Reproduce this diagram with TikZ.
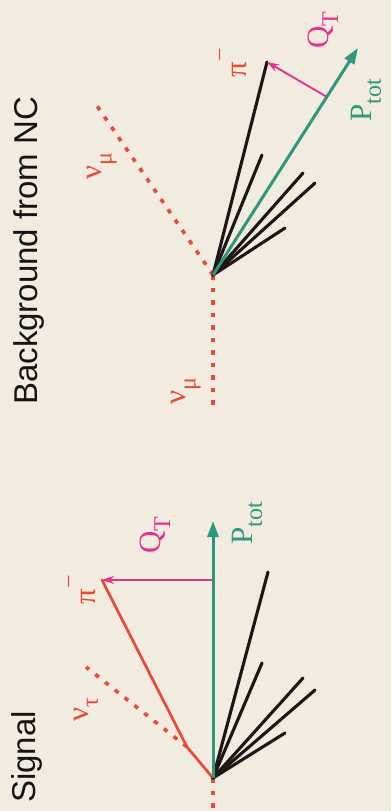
\documentclass[tikz,border=0pt]{standalone}
\usepackage{fontspec}
\setmainfont{Liberation Serif}
\newfontfamily\titlefont{Liberation Sans}
\usetikzlibrary{arrows.meta}
\definecolor{bgc}{RGB}{242,235,224}
\definecolor{nured}{RGB}{232,74,58}
\definecolor{qpink}{RGB}{228,50,140}
\definecolor{pgreen}{RGB}{45,152,122}
\definecolor{jetk}{RGB}{28,22,22}
\newcommand\lsub[1]{\raisebox{-0.32em}{\fontsize{24}{24}\selectfont #1}}
\newcommand\lsup[1]{\raisebox{0.62em}{\fontsize{24}{24}\selectfont #1}}
\begin{document}
\begin{tikzpicture}[x=1pt,y=-1pt,
  titletext/.style={rotate=90,anchor=base west,inner sep=0pt,font=\titlefont\fontsize{33}{36}\selectfont,text=black!92},
  lbl/.style={rotate=90,inner sep=0pt,font=\fontsize{31}{33}\selectfont},
  jet/.style={draw=jetk,line width=3.1pt,line cap=round},
  ptot/.style={draw=pgreen,line width=3pt,-{Triangle[length=16pt,width=11pt]}},
  qt/.style={draw=qpink,line width=1.9pt,-{Stealth[length=12pt,width=8pt]}},
  pion/.style={draw=nured,line width=2.7pt,line cap=round,line join=round},
  nuline/.style={draw=nured,line width=3.6pt,dash pattern=on 4.5pt off 8pt}
]
\useasboundingbox (0,0) rectangle (391,811);
\fill[bgc] (0,0) rectangle (391,811);

% ---------- titles ----------
\node[titletext] (tsig) at (35,803) {Signal};
\node[titletext] (tbg) at (37,405) {Background from NC};

% ---------- Signal panel ----------
\coordinate (sv) at (213,778);
\coordinate (sbot) at (213,811);
\coordinate (stau) at (187,747);
\coordinate (spi) at (102,580);
\coordinate (snu) at (86,667);
\coordinate (sptip) at (213,521);
\coordinate (sqfoot) at (212,580);
\coordinate (sj1) at (268,572);
\coordinate (sj2) at (262,663);
\coordinate (sj3) at (303,678);
\coordinate (sj4) at (315,690);
\coordinate (sj5) at (285,733);

\draw[nuline] (sv) -- (sbot);
\draw[nuline] (stau) -- (snu);
\draw[pion] (sv) -- (stau) -- (spi);
\foreach \j in {sj1,sj2,sj3,sj4,sj5} \draw[jet] (sv) -- (\j);
\draw[ptot] (sv) -- (sptip);
\draw[qt] (sqfoot) -- (spi);

\node[lbl,text=nured] (lsnu) at (86,710) {ν\lsub{τ}};
\node[lbl,text=nured] (lspi) at (82,590) {π\lsup{−}};
\node[lbl,text=qpink] (lsq) at (155,535) {Q\lsub{T}};
\node[lbl,text=pgreen] (lsp) at (247,523) {P\lsub{tot}};

% ---------- Background panel ----------
\coordinate (tv) at (213,275);
\coordinate (tbot) at (213,412);
\coordinate (tnu) at (95,103);
\coordinate (tpi) at (267,62);
\coordinate (tptip) at (358,48);
\coordinate (tqfoot) at (327,97);
\coordinate (tj2) at (262,155);
\coordinate (tj3) at (303,173);
\coordinate (tj4) at (315,183);
\coordinate (tj5) at (285,228);

\draw[nuline] (tv) -- (tbot);
\draw[nuline] (tv) -- (tnu);
\draw[jet] (tv) -- (tpi);
\foreach \j in {tj2,tj3,tj4,tj5} \draw[jet] (tv) -- (\j);
\draw[ptot] (tv) -- (tptip);
\draw[qt] (tqfoot) -- (tpi);

\node[lbl,text=nured] (ltnu1) at (102,166) {ν\lsub{μ}};
\node[lbl,text=nured] (ltnu2) at (186,391) {ν\lsub{μ}};
\node[lbl,text=nured] (ltpi) at (233,63) {π\lsup{−}};
\node[lbl,text=qpink] (ltq) at (323,30) {Q\lsub{T}};
\node[lbl,text=pgreen] (ltp) at (366,100) {P\lsub{tot}};
\end{tikzpicture}
\end{document}
